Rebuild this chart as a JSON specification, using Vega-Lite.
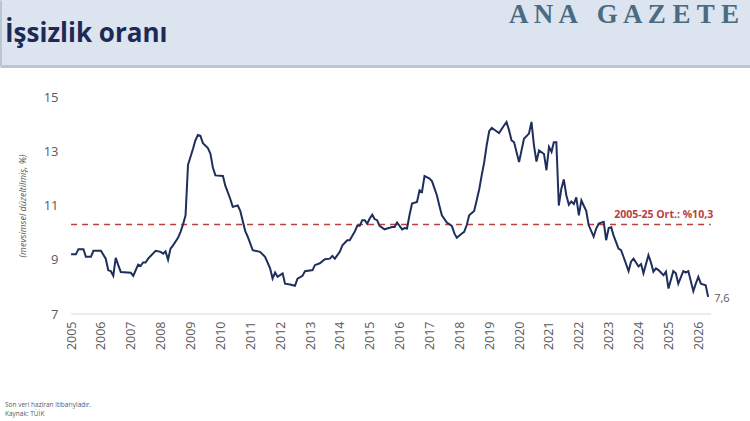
{
  "$schema": "https://vega.github.io/schema/vega-lite/v6.json",
  "padding": 0,
  "background": "white",
  "config": {
    "font": "Open Sans",
    "view": {"stroke": null},
    "axisX": {"labelOverlap": false}
  },
  "spacing": 25,
  "vconcat": [
    {
      "width": 750,
      "height": 66,
      "view": {"fill": "#dce4ef", "stroke": null},
      "data": {"values": [
        {"pos": "l", "text": "İşsizlik oranı", "kind": "title"},
        {"pos": "r", "text": "A N A \u00a0 G A Z E T E", "kind": "brand"}
      ]},
      "encoding": {
        "x": {
          "field": "pos",
          "type": "nominal",
          "scale": {"type": "point", "domain": ["l", "r"], "padding": 0},
          "axis": {"orient": "bottom", "labels": false, "ticks": false, "title": null,
                   "domainColor": "#bcc6d2", "domainWidth": 3}
        },
        "y": {
          "datum": "m",
          "type": "nominal",
          "scale": {"type": "point", "domain": ["m"], "padding": 0.5},
          "axis": {"orient": "left", "labels": false, "ticks": false, "title": null,
                   "domainColor": "#bcc6d2", "domainWidth": 3}
        },
        "text": {"field": "text", "type": "nominal"}
      },
      "layer": [
        {
          "transform": [{"filter": "datum.kind == 'title'"}],
          "mark": {"type": "text", "align": "left", "baseline": "middle", "dx": 5, "dy": 1,
                   "font": "Open Sans", "fontWeight": "bold", "fontSize": 26, "color": "#1c2a55"}
        },
        {
          "transform": [{"filter": "datum.kind == 'brand'"}],
          "mark": {"type": "text", "align": "right", "baseline": "middle", "dx": -11, "dy": -18,
                   "font": "Liberation Serif", "fontWeight": "bold", "fontSize": 27, "color": "#4a6b82"}
        }
      ]
    },
    {
      "width": 711,
      "height": 217,
      "title": {
        "text": ["Son veri haziran itibarıyladır.", "Kaynak: TÜİK"],
        "orient": "bottom",
        "anchor": "start",
        "frame": "bounds",
        "offset": 52,
        "dx": 5,
        "fontSize": 6.5,
        "lineHeight": 9,
        "fontWeight": "normal",
        "color": "#595959"
      },
      "encoding": {
        "x": {
          "field": "date",
          "type": "temporal",
          "scale": {
            "type": "utc",
            "domain": [
              {"year": 2002, "month": 8, "date": 16, "utc": true},
              {"year": 2026, "month": 6, "date": 5, "utc": true}
            ]
          },
          "axis": {
            "title": null,
            "format": "%Y",
            "values": [
              {"year": 2005, "month": 1, "date": 1, "utc": true},
              {"year": 2006, "month": 1, "date": 1, "utc": true},
              {"year": 2007, "month": 1, "date": 1, "utc": true},
              {"year": 2008, "month": 1, "date": 1, "utc": true},
              {"year": 2009, "month": 1, "date": 1, "utc": true},
              {"year": 2010, "month": 1, "date": 1, "utc": true},
              {"year": 2011, "month": 1, "date": 1, "utc": true},
              {"year": 2012, "month": 1, "date": 1, "utc": true},
              {"year": 2013, "month": 1, "date": 1, "utc": true},
              {"year": 2014, "month": 1, "date": 1, "utc": true},
              {"year": 2015, "month": 1, "date": 1, "utc": true},
              {"year": 2016, "month": 1, "date": 1, "utc": true},
              {"year": 2017, "month": 1, "date": 1, "utc": true},
              {"year": 2018, "month": 1, "date": 1, "utc": true},
              {"year": 2019, "month": 1, "date": 1, "utc": true},
              {"year": 2020, "month": 1, "date": 1, "utc": true},
              {"year": 2021, "month": 1, "date": 1, "utc": true},
              {"year": 2022, "month": 1, "date": 1, "utc": true},
              {"year": 2023, "month": 1, "date": 1, "utc": true},
              {"year": 2024, "month": 1, "date": 1, "utc": true},
              {"year": 2025, "month": 1, "date": 1, "utc": true},
              {"year": 2026, "month": 1, "date": 1, "utc": true}
            ],
            "labelAngle": -90,
            "labelFontSize": 12.5,
            "labelColor": "#595959",
            "labelPadding": 7,
            "labelFlush": false,
            "labelOverlap": false,
            "ticks": false,
            "grid": false,
            "domain": false
          }
        },
        "y": {
          "field": "value",
          "type": "quantitative",
          "scale": {"domain": [7, 15], "nice": false, "zero": false},
          "axis": {
            "offset": -71,
            "title": "(mevsimsel düzeltilmiş, %)",
            "titleFontStyle": "italic",
            "titleFontWeight": "normal",
            "titleFontSize": 9,
            "titleColor": "#595959",
            "titleX": -49,
            "titleBaseline": "middle",
            "values": [7, 9, 11, 13, 15],
            "labelFontSize": 13,
            "labelColor": "#595959",
            "labelPadding": 13,
            "domain": false,
            "ticks": false,
            "grid": false
          }
        }
      },
      "layer": [
        {
          "data": {"values": [
            {"kind": "base", "date": "2005-01-01", "to": "2026-06-05", "value": 7},
            {"kind": "avg", "date": "2005-01-01", "to": "2026-06-01", "value": 10.3}
          ]},
          "mark": {"type": "rule"},
          "encoding": {
            "x2": {"field": "to"},
            "color": {"condition": {"test": "datum.kind == 'avg'", "value": "#b8403e"}, "value": "#d9d9d9"},
            "strokeDash": {"condition": {"test": "datum.kind == 'avg'", "value": [6, 5]}, "value": [1, 0]},
            "strokeWidth": {"condition": {"test": "datum.kind == 'avg'", "value": 1.6}, "value": 1}
          }
        },
        {
          "data": {"values": [
            {"date": "2005-01-01", "value": 9.2},
            {"date": "2005-03-01", "value": 9.2},
            {"date": "2005-04-01", "value": 9.39},
            {"date": "2005-06-01", "value": 9.39},
            {"date": "2005-07-01", "value": 9.11},
            {"date": "2005-09-01", "value": 9.11},
            {"date": "2005-10-01", "value": 9.33},
            {"date": "2006-01-01", "value": 9.33},
            {"date": "2006-03-01", "value": 9.04},
            {"date": "2006-04-01", "value": 8.61},
            {"date": "2006-05-01", "value": 8.58},
            {"date": "2006-06-01", "value": 8.41},
            {"date": "2006-07-01", "value": 9.07},
            {"date": "2006-08-01", "value": 8.8},
            {"date": "2006-09-01", "value": 8.55},
            {"date": "2007-01-01", "value": 8.52},
            {"date": "2007-02-01", "value": 8.41},
            {"date": "2007-04-01", "value": 8.82},
            {"date": "2007-05-01", "value": 8.77},
            {"date": "2007-06-01", "value": 8.9},
            {"date": "2007-07-01", "value": 8.9},
            {"date": "2007-08-01", "value": 9.04},
            {"date": "2007-11-01", "value": 9.33},
            {"date": "2008-01-01", "value": 9.29},
            {"date": "2008-02-01", "value": 9.22},
            {"date": "2008-03-01", "value": 9.31},
            {"date": "2008-04-01", "value": 9.0},
            {"date": "2008-05-01", "value": 9.41},
            {"date": "2008-06-01", "value": 9.53},
            {"date": "2008-08-01", "value": 9.81},
            {"date": "2008-09-01", "value": 10.03},
            {"date": "2008-10-01", "value": 10.3},
            {"date": "2008-11-01", "value": 10.64},
            {"date": "2008-12-01", "value": 12.5},
            {"date": "2009-01-01", "value": 12.8},
            {"date": "2009-02-01", "value": 13.1},
            {"date": "2009-03-01", "value": 13.4},
            {"date": "2009-04-01", "value": 13.6},
            {"date": "2009-05-01", "value": 13.57},
            {"date": "2009-06-01", "value": 13.3},
            {"date": "2009-08-01", "value": 13.12},
            {"date": "2009-09-01", "value": 12.91},
            {"date": "2009-10-01", "value": 12.4},
            {"date": "2009-11-01", "value": 12.11},
            {"date": "2010-02-01", "value": 12.09},
            {"date": "2010-03-01", "value": 11.74},
            {"date": "2010-05-01", "value": 11.25},
            {"date": "2010-06-01", "value": 10.95},
            {"date": "2010-08-01", "value": 11.0},
            {"date": "2010-09-01", "value": 10.8},
            {"date": "2010-11-01", "value": 10.05},
            {"date": "2010-12-01", "value": 9.85},
            {"date": "2011-02-01", "value": 9.35},
            {"date": "2011-05-01", "value": 9.29},
            {"date": "2011-07-01", "value": 9.11},
            {"date": "2011-09-01", "value": 8.68},
            {"date": "2011-10-01", "value": 8.31},
            {"date": "2011-11-01", "value": 8.53},
            {"date": "2011-12-01", "value": 8.37},
            {"date": "2012-02-01", "value": 8.5},
            {"date": "2012-03-01", "value": 8.12},
            {"date": "2012-05-01", "value": 8.09},
            {"date": "2012-07-01", "value": 8.04},
            {"date": "2012-08-01", "value": 8.3},
            {"date": "2012-10-01", "value": 8.41},
            {"date": "2012-11-01", "value": 8.58},
            {"date": "2013-02-01", "value": 8.62},
            {"date": "2013-03-01", "value": 8.8},
            {"date": "2013-05-01", "value": 8.87},
            {"date": "2013-07-01", "value": 9.02},
            {"date": "2013-09-01", "value": 9.04},
            {"date": "2013-10-01", "value": 9.14},
            {"date": "2013-11-01", "value": 9.04},
            {"date": "2014-01-01", "value": 9.3},
            {"date": "2014-02-01", "value": 9.53},
            {"date": "2014-04-01", "value": 9.72},
            {"date": "2014-05-01", "value": 9.72},
            {"date": "2014-07-01", "value": 10.03},
            {"date": "2014-08-01", "value": 10.25},
            {"date": "2014-09-01", "value": 10.25},
            {"date": "2014-10-01", "value": 10.46},
            {"date": "2014-11-01", "value": 10.46},
            {"date": "2014-12-01", "value": 10.33},
            {"date": "2015-01-01", "value": 10.52},
            {"date": "2015-02-01", "value": 10.66},
            {"date": "2015-03-01", "value": 10.5},
            {"date": "2015-04-01", "value": 10.46},
            {"date": "2015-05-01", "value": 10.25},
            {"date": "2015-07-01", "value": 10.12},
            {"date": "2015-08-01", "value": 10.15},
            {"date": "2015-10-01", "value": 10.21},
            {"date": "2015-11-01", "value": 10.21},
            {"date": "2015-12-01", "value": 10.37},
            {"date": "2016-01-01", "value": 10.25},
            {"date": "2016-02-01", "value": 10.12},
            {"date": "2016-03-01", "value": 10.17},
            {"date": "2016-04-01", "value": 10.15},
            {"date": "2016-05-01", "value": 10.64},
            {"date": "2016-06-01", "value": 11.07},
            {"date": "2016-08-01", "value": 11.13},
            {"date": "2016-09-01", "value": 11.56},
            {"date": "2016-10-01", "value": 11.5},
            {"date": "2016-11-01", "value": 12.09},
            {"date": "2017-01-01", "value": 11.99},
            {"date": "2017-02-01", "value": 11.89},
            {"date": "2017-04-01", "value": 11.38},
            {"date": "2017-05-01", "value": 11.0},
            {"date": "2017-06-01", "value": 10.64},
            {"date": "2017-08-01", "value": 10.37},
            {"date": "2017-10-01", "value": 10.25},
            {"date": "2017-11-01", "value": 9.97},
            {"date": "2017-12-01", "value": 9.81},
            {"date": "2018-02-01", "value": 9.97},
            {"date": "2018-03-01", "value": 10.03},
            {"date": "2018-04-01", "value": 10.28},
            {"date": "2018-05-01", "value": 10.64},
            {"date": "2018-07-01", "value": 10.8},
            {"date": "2018-08-01", "value": 11.19},
            {"date": "2018-09-01", "value": 11.6},
            {"date": "2018-10-01", "value": 12.11},
            {"date": "2018-11-01", "value": 12.6},
            {"date": "2018-12-01", "value": 13.22},
            {"date": "2019-01-01", "value": 13.74},
            {"date": "2019-02-01", "value": 13.86},
            {"date": "2019-03-01", "value": 13.8},
            {"date": "2019-05-01", "value": 13.67},
            {"date": "2019-07-01", "value": 13.95},
            {"date": "2019-08-01", "value": 14.08},
            {"date": "2019-09-01", "value": 13.77},
            {"date": "2019-10-01", "value": 13.4},
            {"date": "2019-11-01", "value": 13.33},
            {"date": "2020-01-01", "value": 12.6},
            {"date": "2020-03-01", "value": 13.46},
            {"date": "2020-05-01", "value": 13.65},
            {"date": "2020-06-01", "value": 14.08},
            {"date": "2020-07-01", "value": 13.22},
            {"date": "2020-08-01", "value": 12.62},
            {"date": "2020-09-01", "value": 13.03},
            {"date": "2020-11-01", "value": 12.9},
            {"date": "2020-12-01", "value": 12.3},
            {"date": "2021-01-01", "value": 13.16},
            {"date": "2021-02-01", "value": 12.98},
            {"date": "2021-03-01", "value": 13.33},
            {"date": "2021-04-01", "value": 13.33},
            {"date": "2021-05-01", "value": 11.0},
            {"date": "2021-06-01", "value": 11.62},
            {"date": "2021-07-01", "value": 11.96},
            {"date": "2021-08-01", "value": 11.38},
            {"date": "2021-09-01", "value": 11.03},
            {"date": "2021-10-01", "value": 11.15},
            {"date": "2021-11-01", "value": 11.06},
            {"date": "2021-12-01", "value": 11.3},
            {"date": "2022-01-01", "value": 10.64},
            {"date": "2022-02-01", "value": 11.19},
            {"date": "2022-03-01", "value": 11.0},
            {"date": "2022-04-01", "value": 10.8},
            {"date": "2022-05-01", "value": 10.28},
            {"date": "2022-07-01", "value": 9.85},
            {"date": "2022-08-01", "value": 10.15},
            {"date": "2022-09-01", "value": 10.33},
            {"date": "2022-11-01", "value": 10.4},
            {"date": "2022-12-01", "value": 9.72},
            {"date": "2023-01-01", "value": 10.17},
            {"date": "2023-02-01", "value": 10.2},
            {"date": "2023-03-01", "value": 9.9},
            {"date": "2023-05-01", "value": 9.41},
            {"date": "2023-06-01", "value": 9.35},
            {"date": "2023-07-01", "value": 9.11},
            {"date": "2023-09-01", "value": 8.58},
            {"date": "2023-10-01", "value": 8.93},
            {"date": "2023-11-01", "value": 9.04},
            {"date": "2024-01-01", "value": 8.75},
            {"date": "2024-02-01", "value": 8.84},
            {"date": "2024-03-01", "value": 8.5},
            {"date": "2024-05-01", "value": 9.17},
            {"date": "2024-06-01", "value": 8.9},
            {"date": "2024-07-01", "value": 8.56},
            {"date": "2024-08-01", "value": 8.68},
            {"date": "2024-09-01", "value": 8.62},
            {"date": "2024-11-01", "value": 8.43},
            {"date": "2024-12-01", "value": 8.56},
            {"date": "2025-01-01", "value": 7.94},
            {"date": "2025-03-01", "value": 8.58},
            {"date": "2025-04-01", "value": 8.5},
            {"date": "2025-05-01", "value": 8.12},
            {"date": "2025-07-01", "value": 8.58},
            {"date": "2025-08-01", "value": 8.53},
            {"date": "2025-09-01", "value": 8.58},
            {"date": "2025-11-01", "value": 7.84},
            {"date": "2025-12-01", "value": 8.12},
            {"date": "2026-01-01", "value": 8.37},
            {"date": "2026-02-01", "value": 8.12},
            {"date": "2026-04-01", "value": 8.06},
            {"date": "2026-05-01", "value": 7.63, "label": "7,6"}
          ]},
          "layer": [
            {
              "mark": {"type": "line", "color": "#1f2f5c", "strokeWidth": 2}
            },
            {
              "transform": [{"filter": "datum.label != null"}],
              "mark": {"type": "text", "align": "right", "baseline": "middle", "dx": 5, "dy": -9,
                       "fontWeight": "bold", "fontSize": 10.5, "color": "#b8403e"},
              "encoding": {
                "y": {"datum": 10.3, "type": "quantitative"},
                "text": {"value": "2005-25 Ort.: %10,3"}
              }
            },
            {
              "transform": [{"filter": "datum.label != null"}],
              "mark": {"type": "text", "align": "left", "baseline": "middle", "dx": 6, "dy": 2,
                       "fontSize": 11, "color": "#595959"},
              "encoding": {
                "text": {"field": "label", "type": "nominal"}
              }
            }
          ]
        }
      ]
    }
  ]
}
